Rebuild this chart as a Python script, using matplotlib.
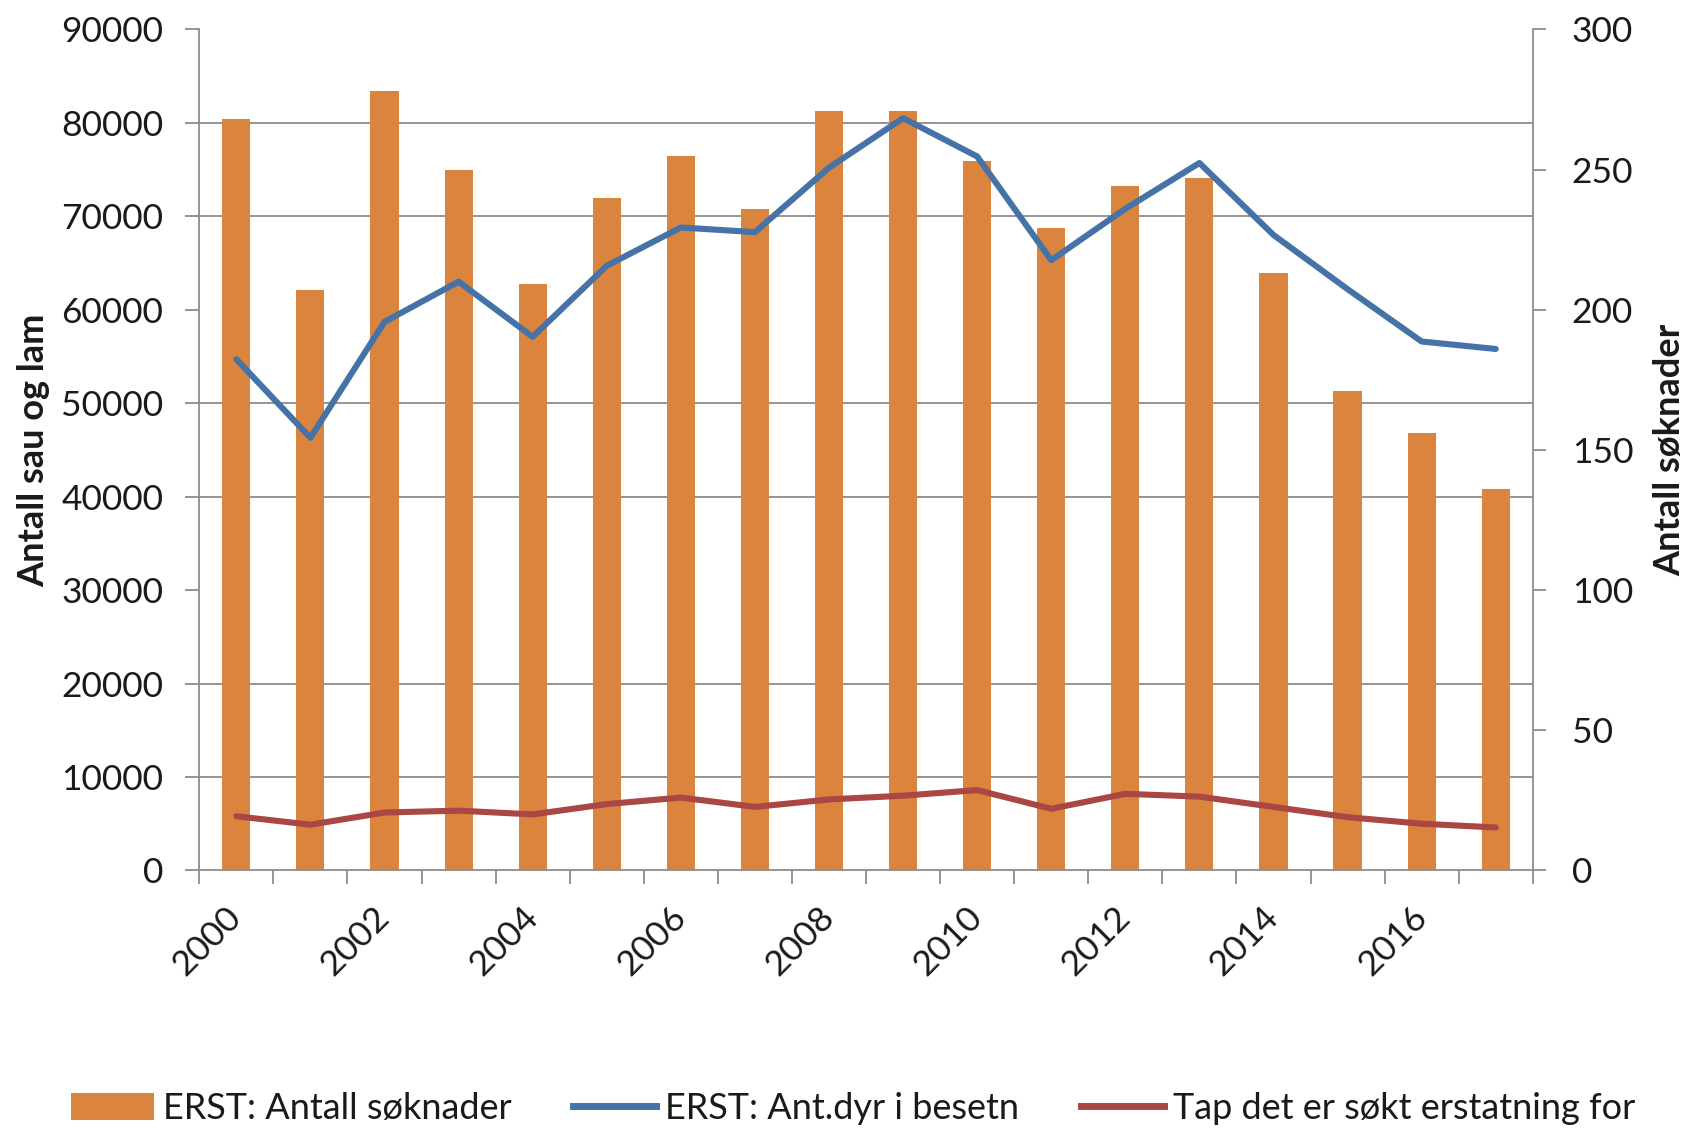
import matplotlib
matplotlib.use("Agg")
import matplotlib.pyplot as plt
import numpy as np
from matplotlib.patches import Patch
from matplotlib.lines import Line2D

years = list(range(2000, 2018))
soknader = [268, 207, 278, 250, 209, 240, 255, 236, 271, 271, 253, 229, 244, 247, 213, 171, 156, 136]
ant_dyr = [54700, 46300, 58700, 63000, 57100, 64700, 68800, 68300, 75200, 80500,
           76400, 65300, 70800, 75700, 68000, 62200, 56600, 55800]
tap = [5800, 4900, 6200, 6400, 6000, 7100, 7800, 6800, 7600, 8000,
       8600, 6600, 8200, 7900, 6800, 5700, 5000, 4600]
left_ticks = list(range(0, 90001, 10000))
right_ticks = list(range(0, 301, 50))

plt.rcParams['font.family'] = ['Lato', 'DejaVu Sans']

C_BAR = '#DB843D'
C_BLUE = '#4572A7'
C_RED = '#AA4643'
GRID = '#8C8C8C'
TXT = '#1a1a1a'

fig = plt.figure(figsize=(16.89, 11.29), dpi=100)
ax = fig.add_axes([0.118, 0.229, 0.7895, 0.745])
ax2 = ax.twinx()

x = np.arange(len(years))
ax.bar(x, soknader, width=0.38, color=C_BAR, zorder=2)
ax.set_ylim(0, 300)
ax.set_xlim(-0.5, len(years) - 0.5)

# gridlines aligned with left axis ticks, drawn behind bars
ax.set_yticks([v * 300 / 90000 for v in left_ticks], minor=True)
ax.yaxis.grid(True, which='minor', color=GRID, lw=1.3, zorder=0)
ax.set_axisbelow(True)
ax.tick_params(axis='y', which='minor', length=0)

ax.yaxis.tick_right()
ax.yaxis.set_label_position('right')
ax.set_yticks(right_ticks)
ax.set_yticklabels([str(v) for v in right_ticks])
ax.tick_params(axis='y', which='major', direction='out', length=9, width=1.3,
               color=GRID, labelsize=25.5, pad=19, labelcolor=TXT)

ax2.plot(x, ant_dyr, color=C_BLUE, lw=4.4, solid_joinstyle='round', solid_capstyle='round', zorder=3)
ax2.plot(x, tap, color=C_RED, lw=4.4, solid_joinstyle='round', solid_capstyle='round', zorder=3)
ax2.set_ylim(0, 90000)
ax2.yaxis.tick_left()
ax2.yaxis.set_label_position('left')
ax2.set_yticks(left_ticks)
ax2.set_yticklabels([str(v) for v in left_ticks])
ax2.tick_params(axis='y', direction='out', length=10, width=1.3, color=GRID,
                labelsize=25.5, pad=16, labelcolor=TXT)

# x axis
ax.set_xticks(np.arange(-0.5, len(years), 1.0))
ax.set_xticklabels([])
ax.tick_params(axis='x', which='major', direction='out', length=10, width=1.3, color=GRID)
lab_pos = x[::2]
ax.set_xticks(lab_pos, minor=True)
ax.set_xticklabels([str(years[i]) for i in lab_pos], minor=True, rotation=45,
                   ha='right', va='center', rotation_mode='anchor', fontsize=25.5, color=TXT)
ax.tick_params(axis='x', which='minor', length=0, pad=30)

for a in (ax, ax2):
    for s in a.spines.values():
        s.set_visible(False)
for k in ('left', 'right', 'bottom'):
    ax.spines[k].set_visible(True)
    ax.spines[k].set_color(GRID)
    ax.spines[k].set_linewidth(1.3)

ax2.set_ylabel('Antall sau og lam', fontsize=26, fontweight='bold', color=TXT)
ax2.yaxis.set_label_coords(-0.112, 0.5)
ax.set_ylabel('Antall søknader', fontsize=26, fontweight='bold', color=TXT)
ax.yaxis.set_label_coords(1.09, 0.5)

handles = [Patch(facecolor=C_BAR, edgecolor='none'),
           Line2D([0], [0], color=C_BLUE, lw=5),
           Line2D([0], [0], color=C_RED, lw=5)]
labels = ['ERST: Antall søknader', 'ERST: Ant.dyr i besetn', 'Tap det er søkt erstatning for']
fig.legend(handles, labels, loc='center', bbox_to_anchor=(0.505, 0.018), ncol=3,
           frameon=False, fontsize=26, handlelength=2.3, handleheight=0.8,
           handletextpad=0.25, columnspacing=1.7, labelcolor=TXT)

fig.savefig('out.png', dpi=100)
